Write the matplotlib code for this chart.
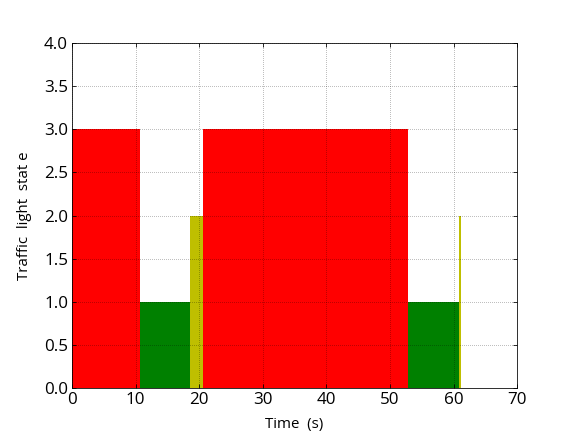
import matplotlib
matplotlib.use('Agg')
import matplotlib.pyplot as plt

# Фазы светофора: начало, длительность, состояние, цвет
starts = [0.0, 10.7, 18.6, 20.6, 52.9, 60.8]
durations = [10.7, 7.9, 2.0, 32.3, 7.9, 0.4]
states = [3, 1, 2, 3, 1, 2]
colors = ['red', 'green', 'y', 'red', 'green', 'y']

plt.rcParams['font.family'] = ['Open Sans', 'DejaVu Sans']

fig = plt.figure(figsize=(8, 436 / 72), dpi=72)
ax = fig.add_axes([0.125, 0.11, 0.773, 0.791])

ax.bar(starts, states, width=durations, align='edge', color=colors,
       linewidth=0, zorder=1)

ax.set_xlim(0, 70)
ax.set_ylim(0, 4)
ax.set_xticks(range(0, 71, 10))
ax.set_yticks([i * 0.5 for i in range(9)])
ax.set_yticklabels([f'{i * 0.5:.1f}' for i in range(9)])
ax.tick_params(labelsize=17, direction='in', length=4)
ax.tick_params(axis='x', pad=4)
ax.tick_params(axis='y', pad=4)
ax.tick_params(top=True, right=True)
ax.grid(True, color='black', linestyle=(0, (1, 3)), linewidth=0.5, zorder=2)
ax.set_axisbelow(False)

ax.set_xlabel('Time  (s)', fontsize=15, labelpad=9)
ax.set_ylabel('Traffic  light  stat e', fontsize=15, labelpad=12)

fig.savefig('out.png', dpi=72)
